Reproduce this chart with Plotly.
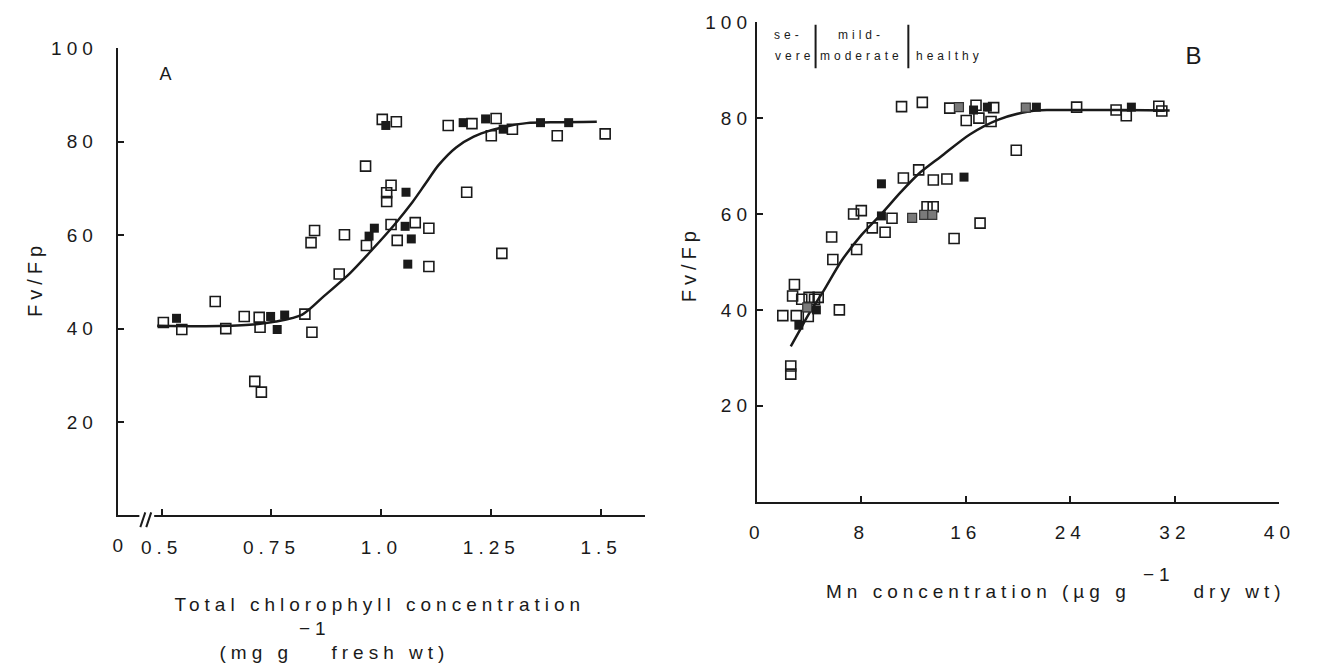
import plotly.graph_objects as go

# ---------------- data ----------------
# Panel A: Fv/Fp vs total chlorophyll (mg g-1 fresh wt)
a_open_x = [1.002, 1.034, 1.152, 1.206, 1.261, 1.250, 1.298, 1.400, 1.509, 0.964,
            1.022, 1.012, 1.012, 1.194, 0.848, 0.840, 0.916, 0.966, 1.022, 1.077,
            1.108, 1.036, 1.274, 1.108, 0.904, 0.622, 0.504, 0.546, 0.646, 0.688,
            0.722, 0.724, 0.826, 0.842, 0.712, 0.727]
a_open_y = [84.8, 84.3, 83.5, 83.9, 85.0, 81.3, 82.7, 81.3, 81.7, 74.8,
            70.7, 69.1, 67.2, 69.2, 61.0, 58.4, 60.1, 57.8, 62.3, 62.7,
            61.5, 58.9, 56.1, 53.3, 51.7, 45.8, 41.3, 39.8, 40.0, 42.6,
            42.4, 40.3, 43.1, 39.2, 28.7, 26.4]
a_fill_x = [1.010, 1.186, 1.237, 1.277, 1.362, 1.426, 1.056, 0.984, 0.972, 1.054,
            1.068, 1.060, 0.534, 0.748, 0.780, 0.763]
a_fill_y = [83.5, 84.1, 84.9, 82.7, 84.1, 84.1, 69.2, 61.5, 59.8, 61.9,
            59.2, 53.8, 42.2, 42.6, 42.9, 39.8]
a_curve_x = [0.49, 0.60, 0.70, 0.76, 0.82, 0.87, 0.93, 0.98, 1.03, 1.07,
             1.10, 1.13, 1.17, 1.21, 1.25, 1.29, 1.33, 1.40, 1.49]
a_curve_y = [40.6, 40.5, 40.8, 41.5, 43.0, 47.0, 52.0, 57.0, 62.3, 67.0,
             71.0, 75.0, 78.8, 81.1, 82.5, 83.4, 84.0, 84.2, 84.3]
a_xticks = [0.5, 0.75, 1.0, 1.25, 1.5]
a_xtick_text = ["0.5", "0.75", "1.0", "1.25", "1.5"]

# Panel B: Fv/Fp vs Mn concentration (ug g-1 dry wt)
b_open_x = [11.08, 12.67, 14.77, 16.78, 16.03, 17.0, 18.13, 17.93, 19.86, 24.48,
            27.5, 28.28, 30.77, 31.0, 12.39, 11.22, 13.51, 14.55, 7.41, 8.0,
            10.35, 13.03, 13.5, 17.09, 8.84, 9.82, 5.73, 15.1, 7.64, 5.82,
            2.88, 2.74, 3.44, 4.0, 4.42, 4.7, 3.02, 3.94, 1.99, 6.32,
            2.60, 2.60]
b_open_y = [82.4, 83.3, 82.1, 82.7, 79.5, 80.0, 82.2, 79.3, 73.3, 82.3,
            81.7, 80.5, 82.5, 81.5, 69.2, 67.5, 67.1, 67.3, 60.0, 60.7,
            59.1, 61.5, 61.5, 58.1, 57.1, 56.2, 55.2, 54.9, 52.6, 50.5,
            45.3, 42.9, 42.2, 42.6, 42.2, 42.6, 38.8, 38.6, 38.8, 40.0,
            28.3, 26.6]
b_fill_x = [16.59, 17.65, 21.40, 28.67, 15.86, 9.54, 9.54, 4.56, 3.22]
b_fill_y = [81.7, 82.3, 82.3, 82.3, 67.7, 66.3, 59.6, 40.0, 36.8]
b_shade_x = [15.47, 20.59, 11.89, 12.81, 13.43, 3.86]
b_shade_y = [82.3, 82.2, 59.2, 59.8, 59.8, 40.5]
b_curve_x = [2.6, 3.2, 4.0, 5.1, 6.5, 8.0, 9.6, 11.0, 12.4, 14.1,
             16.3, 18.5, 20.8, 22.2, 25.0, 28.0, 31.6]
b_curve_y = [32.4, 35.3, 39.2, 43.9, 50.3, 55.6, 60.2, 64.5, 68.4, 72.0,
             76.6, 79.7, 81.4, 81.7, 81.7, 81.7, 81.6]
b_xticks = [0, 8, 16, 24, 32, 40]
b_class_edges = [4.5, 11.6]

yticks = [20, 40, 60, 80, 100]

# ---------------- layout helpers ----------------
W, H = 1323, 671
FONT = "Liberation Sans, Arial, Helvetica, sans-serif"
INK = "#1a1a1a"
TXT = "#1a1a1a"


def fx(p):
    return p / W


def fy(p):
    return 1 - p / H


fig = go.Figure()


def add_panel(cx, cy, ox, oy, fxs, fys, xa, ya, shx=None, shy=None):
    fig.add_trace(go.Scatter(x=cx, y=cy, mode="lines", xaxis=xa, yaxis=ya,
                             line=dict(color=INK, width=2.5, shape="spline", smoothing=0.8),
                             hoverinfo="skip", showlegend=False))
    fig.add_trace(go.Scatter(x=ox, y=oy, mode="markers", xaxis=xa, yaxis=ya,
                             marker=dict(symbol="square-open", size=10, color=INK,
                                         line=dict(width=1.6, color=INK)),
                             cliponaxis=False, showlegend=False))
    if shx is not None:
        fig.add_trace(go.Scatter(x=shx, y=shy, mode="markers", xaxis=xa, yaxis=ya,
                                 marker=dict(symbol="square", size=9, color="#7a7a7a",
                                             line=dict(width=1.2, color="#333")),
                                 cliponaxis=False, showlegend=False))
    fig.add_trace(go.Scatter(x=fxs, y=fys, mode="markers", xaxis=xa, yaxis=ya,
                             marker=dict(symbol="square", size=9, color=INK,
                                         line=dict(width=0)),
                             cliponaxis=False, showlegend=False))


add_panel(a_curve_x, a_curve_y, a_open_x, a_open_y, a_fill_x, a_fill_y, "x", "y")
add_panel(b_curve_x, b_curve_y, b_open_x, b_open_y, b_fill_x, b_fill_y, "x2", "y2",
          b_shade_x, b_shade_y)

axis_common = dict(showline=True, linecolor=INK, linewidth=2, ticks="inside",
                   ticklen=6, tickwidth=2, tickcolor=INK, showgrid=False,
                   zeroline=False, fixedrange=True,
                   tickfont=dict(family=FONT, size=19, color=TXT))

fig.update_layout(
    width=W, height=H, margin=dict(l=0, r=0, t=0, b=0),
    paper_bgcolor="white", plot_bgcolor="white", showlegend=False,
    xaxis=dict(axis_common, domain=[fx(114), fx(648)], range=[0.4, 1.6], anchor="y",
               tickmode="array", tickvals=a_xticks, ticktext=a_xtick_text,
               ticklabelstandoff=14),
    yaxis=dict(axis_common, domain=[fy(513), fy(39)], range=[0, 100], anchor="x",
               tickmode="array", tickvals=yticks, ticklabelstandoff=14),
    xaxis2=dict(axis_common, domain=[fx(761), fx(1290)], range=[0, 40], anchor="y2",
                tickmode="array", tickvals=b_xticks, ticklabelstandoff=13),
    yaxis2=dict(axis_common, domain=[fy(499), fy(12.5)], range=[0, 100], anchor="x2",
                tickmode="array", tickvals=yticks, ticklabelstandoff=-1),
)


def ann(text, x, y, size=19, angle=0):
    fig.add_annotation(text=text, x=fx(x), y=fy(y), xref="paper", yref="paper",
                       xanchor="center", yanchor="middle", showarrow=False,
                       textangle=angle, font=dict(family=FONT, size=size, color=TXT))


# tick "0" before the axis break in panel A
ann("0", 117, 544)
# panel letters
ann("A", 165, 65, 18)
ann("B", 1206, 46, 24)
# y titles
ann("Fv/Fp", 30, 273, 20, angle=-90)
ann("Fv/Fp", 693, 258, 20, angle=-90)
# x title A (two lines, the superscript drawn as its own raised text)
ann("Total chlorophyll concentration", 380, 603)
ann("(mg g", 255, 652)
ann("−1", 314, 628)
ann("fresh wt)", 390, 652)
# x title B
ann("Mn concentration (µg g", 985, 590)
ann("−1", 1168, 573)
ann("dry wt)", 1250, 590)
# deficiency classes in panel B
ann("se-", 793, 25, 12)
ann("vere", 800, 47, 12)
ann("mild-", 866, 25, 12)
ann("moderate", 867, 47, 12)
ann("healthy", 956, 47, 12)

for e in b_class_edges:
    fig.add_shape(type="line", xref="x2", yref="y2", x0=e, x1=e, y0=90.4, y1=99.5,
                  line=dict(color=INK, width=2))

# axis break marks on panel A x axis
fig.add_shape(type="rect", xref="paper", yref="paper", x0=fx(136), x1=fx(151),
              y0=fy(523), y1=fy(507), fillcolor="white", line=dict(width=0),
              layer="above")
for x0 in (137, 143):
    fig.add_shape(type="line", xref="paper", yref="paper", x0=fx(x0), x1=fx(x0 + 5),
                  y0=fy(525), y1=fy(510), line=dict(color=INK, width=2), layer="above")

post = """
document.body.style.margin='0';
document.body.style.padding='0';
var st=document.createElement('style');
st.textContent='.main-svg text{letter-spacing:5px;} .main-svg text[style*="font-size: 12px"]{letter-spacing:4px;}';
document.head.appendChild(st);
"""
fig.write_html("out.html", post_script=post)
